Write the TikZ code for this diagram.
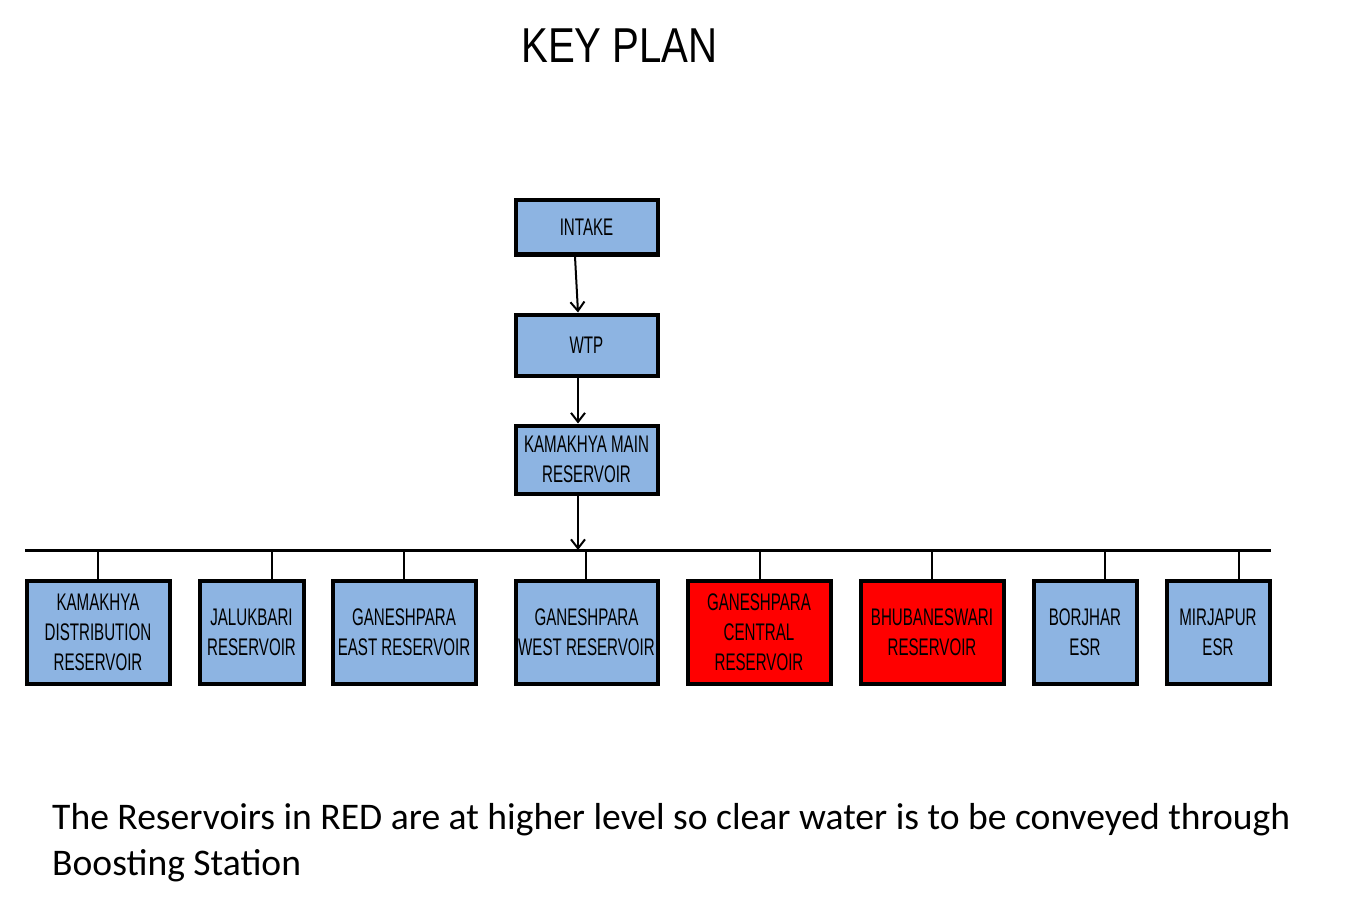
\documentclass[tikz,border=0pt]{standalone}
\usepackage{fontspec}
\usetikzlibrary{arrows.meta}
\newfontfamily\boxfont[FakeStretch=0.63]{Liberation Sans}
\newfontfamily\titlefont[FakeStretch=0.82]{Liberation Sans}
\newfontfamily\notefont{Carlito}
\definecolor{resblue}{RGB}{141,180,226}
\definecolor{resred}{RGB}{255,0,0}
\tikzset{
  res/.style = {draw, line width=4pt, fill=resblue, inner sep=0pt, align=center,
                font=\boxfont\fontsize{24}{30}\selectfont},
  high/.style = {res, fill=resred},
  feed/.style = {line width=2pt},
  flow/.style = {line width=2pt, -{Straight Barb[length=9pt,width=14pt,line width=2pt]}}
}
\begin{document}
\begin{tikzpicture}[x=1pt, y=-1pt]
\useasboundingbox (0,0) rectangle (1348,909);
\node (title) at (619.5,46) {\titlefont\fontsize{49}{55}\selectfont KEY PLAN};
% main line
\node (INTAKE) [res, minimum width=142pt, minimum height=54pt] at (586.5,227.5) {INTAKE};
\node (WTP) [res, minimum width=142pt, minimum height=61pt] at (586.5,345) {WTP};
\node (KMR) [res, minimum width=142pt, minimum height=68pt] at (586.5,459.5) {KAMAKHYA MAIN\\RESERVOIR};
% reservoirs
\node (KDR) [res, minimum width=143pt, minimum height=103pt] at (98,632) {KAMAKHYA\\DISTRIBUTION\\RESERVOIR};
\node (JAL) [res, minimum width=104pt, minimum height=103pt] at (251.5,632) {JALUKBARI\\RESERVOIR};
\node (GEA) [res, minimum width=143pt, minimum height=103pt] at (404,632) {GANESHPARA\\EAST RESERVOIR};
\node (GWE) [res, minimum width=142pt, minimum height=103pt] at (586.5,632) {GANESHPARA\\WEST RESERVOIR};
\node (GCE) [high, minimum width=143pt, minimum height=103pt] at (759,632) {GANESHPARA\\CENTRAL\\RESERVOIR};
\node (BHU) [high, minimum width=143pt, minimum height=103pt] at (932,632) {BHUBANESWARI\\RESERVOIR};
\node (BOR) [res, minimum width=103pt, minimum height=103pt] at (1085,632) {BORJHAR\\ESR};
\node (MIR) [res, minimum width=103pt, minimum height=103pt] at (1218,632) {MIRJAPUR\\ESR};
% bus
\coordinate (busL) at (25,550);
\coordinate (busR) at (1271,550);
\coordinate (hub) at (578,550);
\draw [line width=3pt] (busL) -- (busR);
\draw [flow] ([xshift=-11.5pt]INTAKE.south) -- ([xshift=-8.5pt]WTP.north);
\draw [flow] ([xshift=-8.5pt]WTP.south) -- ([xshift=-8.5pt]KMR.north);
\draw [flow] ([xshift=-8.5pt]KMR.south) -- (hub);
\foreach \x/\n in {98/KDR, 272/JAL, 404/GEA, 586/GWE, 760/GCE, 932/BHU, 1105/BOR, 1239/MIR} {
  \coordinate (d\n) at (\x,550);
  \draw [feed] (d\n) -- (d\n |- \n.north);
}
\node (note) [anchor=north west, align=left, inner sep=0pt, font=\notefont\fontsize{37.6}{46}\selectfont]
  at (52,803) {The Reservoirs in RED are at higher level so clear water is to be conveyed through\\Boosting Station};
\end{tikzpicture}
\end{document}
